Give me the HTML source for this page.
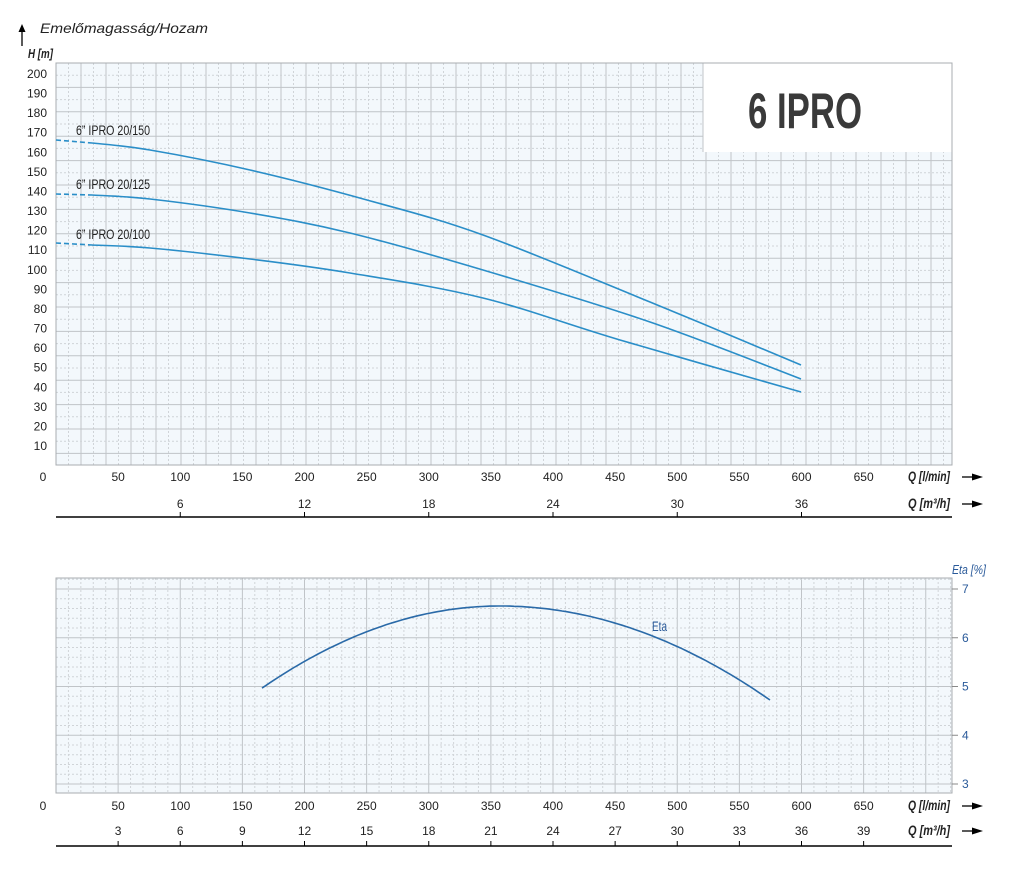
<!DOCTYPE html>
<html><head><meta charset="utf-8"><style>
body{margin:0;background:#fff;}
svg{display:block;font-family:"Liberation Sans",sans-serif;}
</style></head><body>
<svg id="s" width="1024" height="888" viewBox="0 0 1024 888" xmlns="http://www.w3.org/2000/svg">
<rect x="56" y="63" width="896" height="402" fill="#f3f8fc"/>
<rect x="56" y="578" width="896" height="215" fill="#f3f8fc"/>
<g id="g1"></g>
<g id="g2"></g>
<rect x="703" y="63" width="249" height="89" fill="#fff"/>
<line x1="703" y1="63" x2="703" y2="152" stroke="#c0c4c8"/>
<rect x="56" y="63" width="896" height="402" fill="none" stroke="#a8acb0" stroke-width="1"/>
<rect x="56" y="578" width="896" height="215" fill="none" stroke="#a8acb0" stroke-width="1"/>
<text x="748" y="128" font-size="50" font-weight="bold" fill="#3a3a3a" textLength="114" lengthAdjust="spacingAndGlyphs">6 IPRO</text>

<path d="M22 30 L22 46" stroke="#000" stroke-width="1.3"/><path d="M18.5 32 L22 24 L25.5 32 Z" fill="#000"/>
<text x="40" y="33" font-size="14" font-style="italic" fill="#222" textLength="168" lengthAdjust="spacingAndGlyphs">Emelőmagasság/Hozam</text>
<text x="28" y="58" font-size="13" font-style="italic" font-weight="bold" fill="#222" textLength="25" lengthAdjust="spacingAndGlyphs">H [m]</text>

<g id="ylab" font-size="12" fill="#222" text-anchor="end"></g>
<g id="xlab" font-size="12" fill="#222" text-anchor="middle"></g>
<g id="curves" fill="none" stroke="#2a8ec8" stroke-width="1.6">
<path d="M56 140 L92 143" stroke-dasharray="5,3"/>
<path d="M56 194 L92 195" stroke-dasharray="5,3"/>
<path d="M56 243 L92 245" stroke-dasharray="5,3"/>
</g>
<g font-size="14" fill="#222">
<text x="76" y="135" textLength="74" lengthAdjust="spacingAndGlyphs">6” IPRO 20/150</text>
<text x="76" y="189" textLength="74" lengthAdjust="spacingAndGlyphs">6” IPRO 20/125</text>
<text x="76" y="239" textLength="74" lengthAdjust="spacingAndGlyphs">6” IPRO 20/100</text>
</g>
<text x="652" y="631" font-size="14" fill="#2a5a9a" textLength="15" lengthAdjust="spacingAndGlyphs">Eta</text>
<text x="952" y="574" font-size="13" font-style="italic" fill="#2a5a9a" textLength="34" lengthAdjust="spacingAndGlyphs">Eta [%]</text>
</svg>
<script>
var NS="http://www.w3.org/2000/svg",s=document.getElementById('s');
function el(p,t,a,txt){var e=document.createElementNS(NS,t);for(var k in a)e.setAttribute(k,a[k]);if(txt!==undefined)e.textContent=txt;p.appendChild(e);return e;}
var g1=document.getElementById('g1'),g2=document.getElementById('g2');
var sol="#c0c4c8",das="#d0d4d8";
for(var x=56+12.5;x<952;x+=12.5){var i=Math.round((x-56)/12.5);el(g1,'line',{x1:x,y1:63,x2:x,y2:465,stroke:i%2?das:sol,'stroke-width':1,'stroke-dasharray':i%2?'2,2':''});}
for(var y=63+12.2;y<465;y+=12.2){var j=Math.round((y-63)/12.2);el(g1,'line',{x1:56,y1:y,x2:952,y2:y,stroke:j%2?das:sol,'stroke-width':1,'stroke-dasharray':j%2?'2,2':''});}
var sx=62.125/5;
for(var k=1;56+k*sx<952;k++){var x=56+k*sx;var so=k%5==0;el(g2,'line',{x1:x,y1:578,x2:x,y2:793,stroke:so?sol:das,'stroke-dasharray':so?'':'2,2'});}
for(var e=2.8;e<7.25;e+=0.2){var y=784-(e-3)*48.75;var so=Math.abs(e-Math.round(e))<0.01;if(y<=578||y>=793)continue;el(g2,'line',{x1:56,y1:y,x2:952,y2:y,stroke:so?sol:das,'stroke-dasharray':so?'':'2,2'});}
function cr(p){var d='M'+p[0][0]+' '+p[0][1];for(var i=0;i<p.length-1;i++){var p0=p[i-1]||p[i],p1=p[i],p2=p[i+1],p3=p[i+2]||p2;
d+=' C'+(p1[0]+(p2[0]-p0[0])/6)+' '+(p1[1]+(p2[1]-p0[1])/6)+' '+(p2[0]-(p3[0]-p1[0])/6)+' '+(p2[1]-(p3[1]-p1[1])/6)+' '+p2[0]+' '+p2[1];}return d;}
var cg=document.getElementById('curves');
el(cg,'path',{d:cr([[92,143],[150,150],[250,170],[367,200],[483,235],[650,302],[801,365]])});
el(cg,'path',{d:cr([[92,195],[150,199],[250,213],[350,233],[483,270],[650,322],[801,379]])});
el(cg,'path',{d:cr([[92,245],[150,248],[250,259],[350,273],[483,298],[620,340],[801,392]])});
var pts=[];for(var x=262;x<=770;x+=4){var a=x<500?0.00145:0.00129;pts.push((x==262?'M':'L')+x+' '+(606+a*(x-500)*(x-500)).toFixed(1));}
el(cg,'path',{d:pts.join(' '),stroke:'#2a6aa8'});
var yl=document.getElementById('ylab');
for(var h=10;h<=200;h+=10){el(yl,'text',{x:47,y:465.6-h*1.958+4},h);}
var xl=document.getElementById('xlab');
function X(q){return 56+q*1.2425;}
el(xl,'text',{x:43,y:481},'0');el(xl,'text',{x:43,y:810},'0');
for(var q=50;q<=650;q+=50){el(xl,'text',{x:X(q),y:481},q);el(xl,'text',{x:X(q),y:810},q);}
for(var m=6;m<=36;m+=6){el(xl,'text',{x:X(m*50/3),y:508},m);el(s,'line',{x1:X(m*50/3),y1:517,x2:X(m*50/3),y2:512,stroke:'#000'});}
for(var m=3;m<=39;m+=3){el(xl,'text',{x:X(m*50/3),y:835},m);el(s,'line',{x1:X(m*50/3),y1:846,x2:X(m*50/3),y2:841,stroke:'#000'});}
el(s,'line',{x1:56,y1:517,x2:952,y2:517,stroke:'#000','stroke-width':1.5});
el(s,'line',{x1:56,y1:846,x2:952,y2:846,stroke:'#000','stroke-width':1.5});
[[481,'Q [l/min]'],[508,'Q  [m³/h]'],[810,'Q [l/min]'],[835,'Q  [m³/h]']].forEach(function(a){
el(s,'text',{x:908,y:a[0],'font-size':14,'font-style':'italic','font-weight':'bold',fill:'#222',textLength:42,lengthAdjust:'spacingAndGlyphs'},a[1]);
var y=a[0]-4;el(s,'line',{x1:962,y1:y,x2:976,y2:y,stroke:'#000','stroke-width':1.3});el(s,'path',{d:'M972 '+(y-3.5)+' L983 '+y+' L972 '+(y+3.5)+' Z',fill:'#000'});});
for(var e=3;e<=7;e++){var y=784-(e-3)*48.75;el(s,'line',{x1:952,y1:y,x2:958,y2:y,stroke:'#888'});el(s,'text',{x:962,y:y+4,'font-size':12,fill:'#2a5a9a'},e);}
</script>
</body></html>
